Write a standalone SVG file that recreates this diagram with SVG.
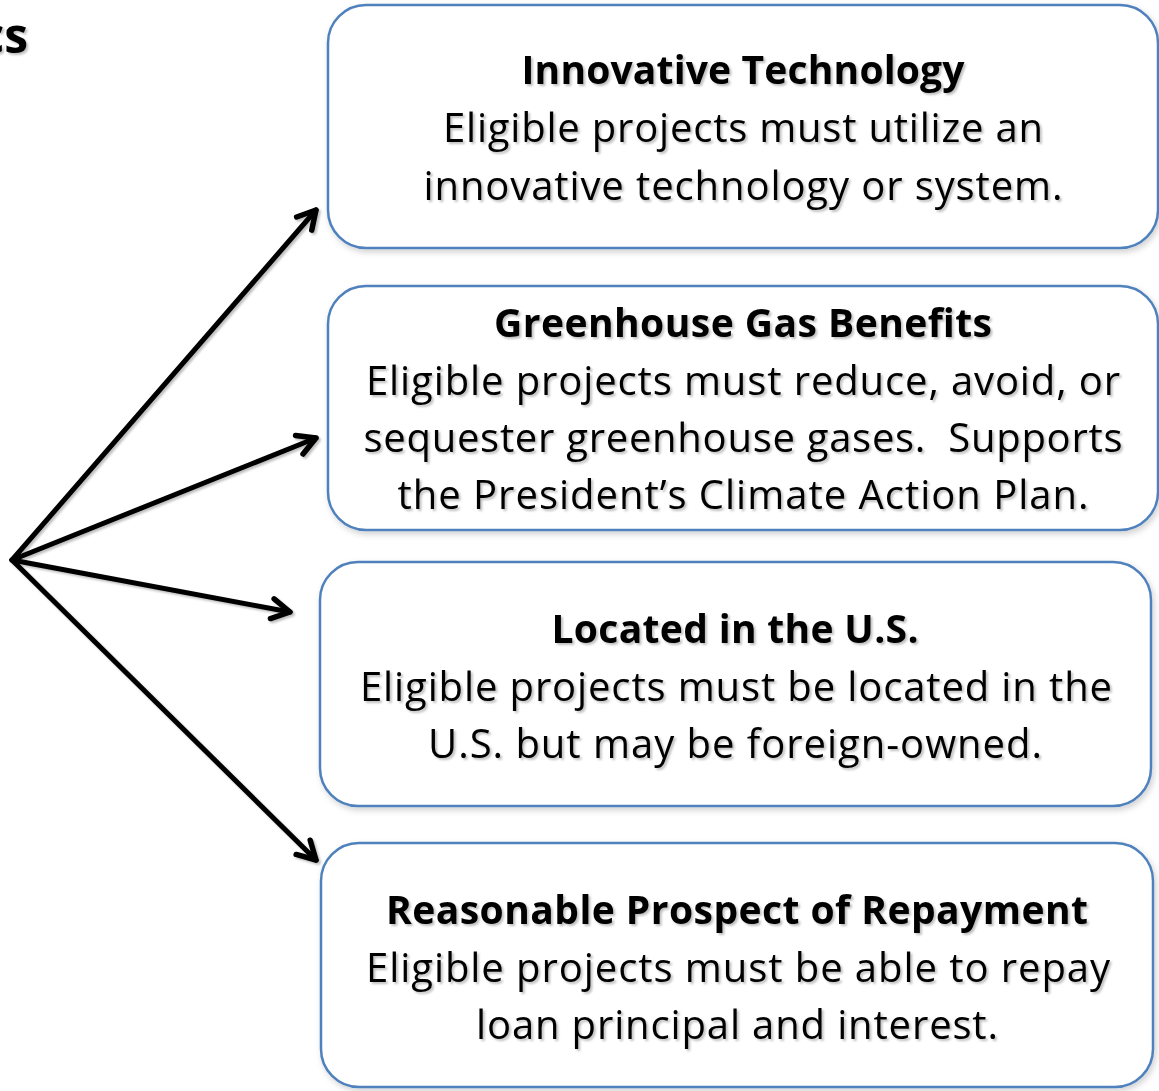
<svg xmlns="http://www.w3.org/2000/svg" width="1159" height="1091" viewBox="0 0 1159 1091">
<defs>
<filter id="ts" x="-5%" y="-20%" width="110%" height="140%">
<feDropShadow dx="2" dy="2" stdDeviation="1.2" flood-color="#000" flood-opacity="0.25"/>
</filter>
<filter id="bs" x="-5%" y="-5%" width="110%" height="110%">
<feDropShadow dx="2" dy="3" stdDeviation="3" flood-color="#000" flood-opacity="0.18"/>
</filter>
<marker id="ah" viewBox="0 0 30 30" refX="25" refY="15" markerWidth="30" markerHeight="30" markerUnits="userSpaceOnUse" orient="auto">
<path d="M7,5 L25,15 L7,25" fill="none" stroke="#000" stroke-width="5.5" stroke-linecap="round" stroke-linejoin="round"/>
</marker>
</defs>
<style>
.box{fill:#fff;stroke:#4f81bd;stroke-width:2.5}
text{font-family:"Open Sans","Noto Sans",sans-serif;font-size:40px;fill:#000;text-anchor:middle;white-space:pre}
.t{font-weight:bold;font-size:39px}
.conn line{stroke:#000;stroke-width:5;stroke-linecap:round}
</style>
<text x="28" y="53" class="t" style="text-anchor:end;font-size:48px" filter="url(#ts)">cs</text>
<g class="conn" filter="url(#ts)">
<line x1="12" y1="560" x2="316" y2="210" marker-end="url(#ah)"/>
<line x1="12" y1="560" x2="316" y2="438" marker-end="url(#ah)"/>
<line x1="12" y1="560" x2="290" y2="612" marker-end="url(#ah)"/>
<line x1="12" y1="560" x2="316" y2="860" marker-end="url(#ah)"/>
</g>
<g id="n1">
<rect class="box" x="328" y="5" width="830" height="243" rx="38" filter="url(#bs)"/>
<g filter="url(#ts)">
<text x="743" y="84" class="t" textLength="443" lengthAdjust="spacing">Innovative Technology</text>
<text x="743" y="142" textLength="600" lengthAdjust="spacing">Eligible projects must utilize an</text>
<text x="743" y="200" textLength="639" lengthAdjust="spacing">innovative technology or system.</text>
</g>
</g>
<g id="n2">
<rect class="box" x="328" y="286" width="830" height="244" rx="38" filter="url(#bs)"/>
<g filter="url(#ts)">
<text x="743" y="337" class="t" textLength="498" lengthAdjust="spacing">Greenhouse Gas Benefits</text>
<text x="743" y="395" textLength="754" lengthAdjust="spacing">Eligible projects must reduce, avoid, or</text>
<text x="743" y="452" textLength="759" lengthAdjust="spacing">sequester greenhouse gases.  Supports</text>
<text x="743" y="509" textLength="691" lengthAdjust="spacing">the President’s Climate Action Plan.</text>
</g>
</g>
<g id="n3">
<rect class="box" x="320" y="562" width="831" height="244" rx="38" filter="url(#bs)"/>
<g filter="url(#ts)">
<text x="735" y="643" class="t" textLength="367" lengthAdjust="spacing">Located in the U.S.</text>
<text x="736" y="701" textLength="752" lengthAdjust="spacing">Eligible projects must be located in the</text>
<text x="735" y="758" textLength="614" lengthAdjust="spacing">U.S. but may be foreign-owned.</text>
</g>
</g>
<g id="n4">
<rect class="box" x="321" y="843" width="832" height="244" rx="38" filter="url(#bs)"/>
<g filter="url(#ts)">
<text x="737" y="924" class="t" textLength="702" lengthAdjust="spacing">Reasonable Prospect of Repayment</text>
<text x="738" y="982" textLength="744" lengthAdjust="spacing">Eligible projects must be able to repay</text>
<text x="737" y="1039" textLength="522" lengthAdjust="spacing">loan principal and interest.</text>
</g>
</g>
</svg>
